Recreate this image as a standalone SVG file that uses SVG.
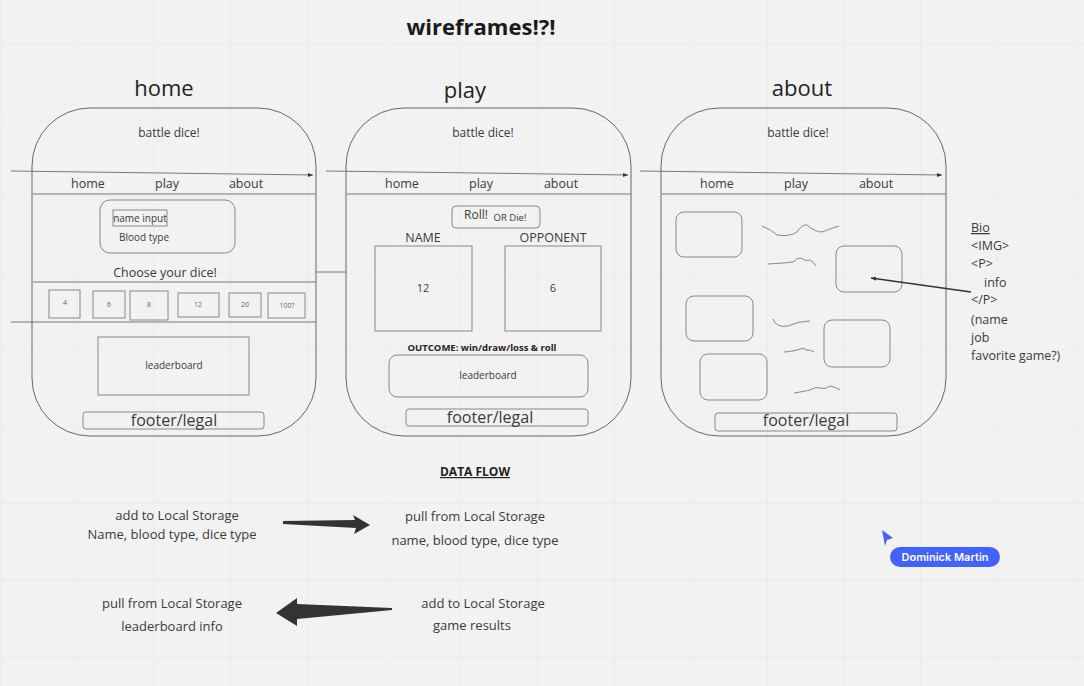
<svg xmlns="http://www.w3.org/2000/svg" width="1084" height="686" viewBox="0 0 1084 686">
<defs>
<pattern id="grid" x="0.3" y="-33.7" width="76.67" height="76.67" patternUnits="userSpaceOnUse">
<path d="M0 0H76.67M0 0V76.67" fill="none" stroke="#e4e4e4" stroke-width="1"/>
</pattern>
<marker id="tip" markerWidth="6" markerHeight="6" refX="5" refY="3" orient="auto" markerUnits="userSpaceOnUse">
<path d="M0 1 L5 3 L0 5 Z" fill="#333"/>
</marker>
</defs>
<style>
text{font-family:"Open Sans","Noto Sans","Liberation Sans",sans-serif;fill:#3a3a3a}
.frame{fill:none;stroke:#666;stroke-width:1}
.line{fill:none;stroke:#777;stroke-width:1}
.box{fill:none;stroke:#888;stroke-width:1}
.sq{fill:none;stroke:#888;stroke-width:1}
.ttl{font-size:22px;text-anchor:middle;fill:#222}
.bd{font-size:12px;text-anchor:middle}
.nav{font-size:12.5px;text-anchor:middle}
.sm{font-size:10px;text-anchor:middle}
.xs{font-size:7px;text-anchor:middle;fill:#666}
.ft{font-size:16px;text-anchor:middle}
.df{font-size:13px;text-anchor:middle}
.bio{font-size:12.5px}
</style>
<rect width="1084" height="686" fill="#f2f2f2"/>
<rect width="1084" height="686" fill="url(#grid)"/>

<text x="481" y="35" font-size="22" font-weight="bold" text-anchor="middle" style="fill:#1a1a1a">wireframes!?!</text>
<text class="ttl" x="164" y="96">home</text>
<text class="ttl" x="465" y="98">play</text>
<text class="ttl" x="802" y="96">about</text>

<g id="home">
<rect class="frame" x="32" y="108" width="284" height="328" rx="58" ry="58"/>
<text class="bd" x="169" y="137">battle dice!</text>
<text class="nav" x="88" y="188">home</text>
<text class="nav" x="167" y="188">play</text>
<text class="nav" x="246" y="188">about</text>
<rect class="box" x="100" y="200" width="135" height="53" rx="10"/>
<rect class="box" x="113" y="210" width="54" height="16"/>
<text class="sm" x="140" y="222">name input</text>
<text class="sm" x="144" y="241">Blood type</text>
<text class="nav" x="165" y="277">Choose your dice!</text>
<rect class="box" x="49" y="290" width="31" height="28"/>
<text class="xs" x="65" y="305">4</text>
<rect class="box" x="93" y="291" width="32" height="27"/>
<text class="xs" x="109" y="307">6</text>
<rect class="box" x="130" y="291" width="38" height="29"/>
<text class="xs" x="149" y="307">8</text>
<rect class="box" x="178" y="293" width="41" height="24"/>
<text class="xs" x="198" y="307">12</text>
<rect class="box" x="229" y="293" width="32" height="24"/>
<text class="xs" x="245" y="307">20</text>
<rect class="box" x="268" y="293" width="37" height="25"/>
<text class="xs" x="287" y="308">100?</text>
<rect class="box" x="98" y="337" width="151" height="58"/>
<text class="sm" x="174" y="369">leaderboard</text>
<rect class="box" x="83" y="412" width="181" height="17" rx="3"/>
<text class="ft" x="174" y="426">footer/legal</text>
</g>

<g id="play">
<rect class="frame" x="346" y="108" width="285" height="328" rx="58" ry="58"/>
<text class="bd" x="483" y="137">battle dice!</text>
<text class="nav" x="402" y="188">home</text>
<text class="nav" x="481" y="188">play</text>
<text class="nav" x="561" y="188">about</text>
<rect class="box" x="452" y="206" width="88" height="22" rx="4"/>
<text x="476" y="219" font-size="12" text-anchor="middle">Roll!</text>
<text x="510" y="221" font-size="9.5" text-anchor="middle">OR Die!</text>
<text class="nav" x="423" y="242">NAME</text>
<text class="nav" x="553" y="242">OPPONENT</text>
<rect class="box" x="375" y="246" width="97" height="85"/>
<rect class="box" x="505" y="246" width="96" height="85"/>
<text class="sm" x="423" y="292" style="font-size:11px">12</text>
<text class="sm" x="553" y="292" style="font-size:11px">6</text>
<text x="482" y="351" font-size="9.5" font-weight="bold" text-anchor="middle" style="fill:#222">OUTCOME: win/draw/loss &amp; roll</text>
<rect class="box" x="389" y="355" width="199" height="42" rx="8"/>
<text class="sm" x="488" y="379">leaderboard</text>
<rect class="box" x="406" y="409" width="182" height="17" rx="3"/>
<text class="ft" x="490" y="423">footer/legal</text>
</g>

<g id="about">
<rect class="frame" x="661" y="108" width="285" height="328" rx="58" ry="58"/>
<text class="bd" x="798" y="137">battle dice!</text>
<text class="nav" x="717" y="188">home</text>
<text class="nav" x="796" y="188">play</text>
<text class="nav" x="876" y="188">about</text>
<rect class="box" x="676" y="212" width="66" height="45" rx="8"/>
<rect class="box" x="836" y="246" width="66" height="46" rx="8"/>
<rect class="box" x="686" y="296" width="67" height="45" rx="8"/>
<rect class="box" x="824" y="320" width="66" height="47" rx="8"/>
<rect class="box" x="700" y="354" width="67" height="46" rx="8"/>
<path class="sq" d="M762 226 Q772 230 777 235 Q790 237 797 232 Q802 224 807 225 Q815 232 822 232 Q832 228 839 226"/>
<path class="sq" d="M768 264 Q785 263 793 262 Q798 257 801 258 Q806 262 810 260 Q814 262 816 266"/>
<path class="sq" d="M773 319 Q776 328 788 326 Q798 321 810 321"/>
<path class="sq" d="M784 352 Q796 351 800 349 Q803 347 806 350 Q811 350 814 352"/>
<path class="sq" d="M794 393 Q806 391 810 390 Q816 386 820 388 Q826 390 830 386 Q836 387 840 390"/>
<rect class="box" x="715" y="413" width="182" height="18" rx="3"/>
<text class="ft" x="806" y="426">footer/legal</text>
<text class="bio" x="971" y="232" text-decoration="underline">Bio</text>
<text class="bio" x="971" y="250">&lt;IMG&gt;</text>
<text class="bio" x="971" y="268">&lt;P&gt;</text>
<text class="bio" x="984" y="287">info</text>
<text class="bio" x="971" y="304">&lt;/P&gt;</text>
<text class="bio" x="971" y="324">(name</text>
<text class="bio" x="971" y="342">job</text>
<text class="bio" x="971" y="360">favorite game?)</text>
</g>

<g id="dataflow">
<text x="475" y="476" font-size="12" font-weight="bold" text-anchor="middle" text-decoration="underline" style="fill:#222">DATA FLOW</text>
<text class="df" x="177" y="520">add to Local Storage</text>
<text class="df" x="172" y="539">Name, blood type, dice type</text>
<text class="df" x="475" y="521">pull from Local Storage</text>
<text class="df" x="475" y="545">name, blood type, dice type</text>
<text class="df" x="172" y="608">pull from Local Storage</text>
<text class="df" x="172" y="631">leaderboard info</text>
<text class="df" x="483" y="608">add to Local Storage</text>
<text class="df" x="472" y="630">game results</text>
</g>

<g id="connectors">
<path d="M11 171 L313 175" class="line" marker-end="url(#tip)"/>
<path d="M326 171 L628 175" class="line" marker-end="url(#tip)"/>
<path d="M640 171 L942 175" class="line" marker-end="url(#tip)"/>
<line class="line" x1="33" y1="194" x2="316" y2="194"/>
<line class="line" x1="347" y1="194" x2="631" y2="194"/>
<line class="line" x1="662" y1="194" x2="946" y2="194"/>
<line class="line" x1="33" y1="282" x2="316" y2="282"/>
<line class="line" x1="316" y1="272" x2="346" y2="272"/>
<line class="line" x1="11" y1="322" x2="316" y2="322"/>
<path d="M971 292 L871 278" fill="none" stroke="#333" stroke-width="1.3" marker-end="url(#tip)"/>
<path d="M283 521 L355 520 L353 515 L370 525 L354 534 L356 528 L283 524 Z" fill="#333"/>
<path d="M392 608 L297 604 L297 598 L276 613 L297 626 L297 619 L392 610 Z" fill="#333"/>
</g>

<g id="cursor">
<path d="M882 530 L893 538 L887 540 L885 546 Z" fill="#4262ff"/>
<rect x="890" y="547" width="110" height="20" rx="10" fill="#4262ff"/>
<text x="945" y="561" font-size="11" font-weight="600" text-anchor="middle" style="fill:#ffffff;font-family:Inter,'Noto Sans',sans-serif">Dominick Martin</text>
</g>
</svg>
